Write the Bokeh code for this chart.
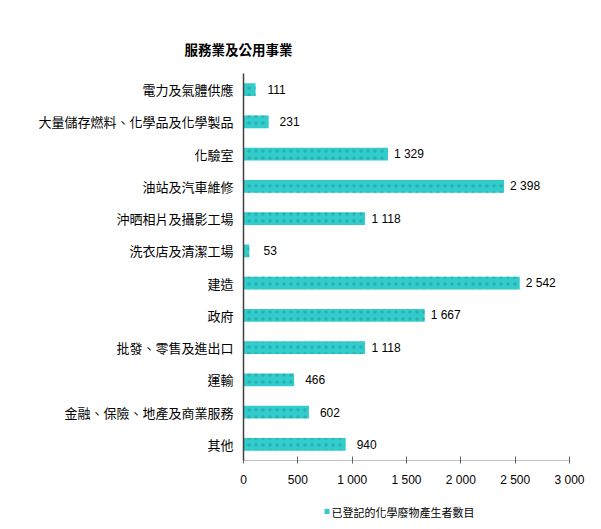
from bokeh.plotting import figure
from bokeh.layouts import column
from bokeh.models import FactorRange, Range1d, FixedTicker, Title, ColumnDataSource
from bokeh.core.properties import value
from bokeh.embed import file_html
from bokeh.resources import INLINE

title = "服務業及公用事業"
categories = ["電力及氣體供應", "大量儲存燃料、化學品及化學製品", "化驗室", "油站及汽車維修",
              "沖晒相片及攝影工場", "洗衣店及清潔工場", "建造", "政府", "批發、零售及進出口",
              "運輸", "金融、保險、地產及商業服務", "其他"]
counts = [111, 231, 1329, 2398, 1118, 53, 2542, 1667, 1118, 466, 602, 940]
series_name = "已登記的化學廢物產生者數目"
x_ticks = [0, 500, 1000, 1500, 2000, 2500, 3000]
x_tick_labels = ["0", "500", "1 000", "1 500", "2 000", "2 500", "3 000"]

BAR_COLOR = "#33CCCC"

def fmt(v):
    return f"{v:,}".replace(",", " ")

src = ColumnDataSource(dict(cat=categories, val=counts, lab=[fmt(v) for v in counts]))

p = figure(width=601, height=495, output_backend="svg", toolbar_location=None,
           y_range=FactorRange(*reversed(categories)), x_range=Range1d(0, 3000),
           min_border_left=243, min_border_right=32, min_border_top=73, min_border_bottom=35)
p.outline_line_color = None
p.xgrid.grid_line_color = None
p.ygrid.grid_line_color = None

bars = p.hbar(y="cat", right="val", left=0, height=0.4, source=src,
              fill_color=BAR_COLOR, line_color=None,
              hatch_pattern="dot", hatch_color="#1f9f9f", hatch_scale=7, hatch_weight=1, hatch_alpha=0.6)

p.text(x="val", y="cat", text="lab", source=src, x_offset=21,
       text_align="center", text_baseline="middle",
       text_font=value("Liberation Sans"), text_font_size="12px", text_color="#000000")

# axes
p.yaxis.major_label_text_font = "Noto Sans CJK TC"
p.yaxis.major_label_text_font_size = "13px"
p.yaxis.major_label_text_color = "#000000"
p.yaxis.major_tick_line_color = None
p.yaxis.major_tick_out = 0
p.yaxis.major_tick_in = 0
p.yaxis.major_label_standoff = 10
p.yaxis.axis_line_color = "#404040"
p.yaxis.axis_line_width = 1.5

p.xaxis.ticker = FixedTicker(ticks=x_ticks)
p.xaxis.major_label_overrides = {t: l for t, l in zip(x_ticks, x_tick_labels)}
p.xaxis.major_label_text_font = "Liberation Sans"
p.xaxis.major_label_text_font_size = "12px"
p.xaxis.major_label_text_color = "#000000"
p.xaxis.major_label_standoff = 9
p.xaxis.minor_tick_line_color = None
p.xaxis.major_tick_in = 4
p.xaxis.major_tick_out = 3
p.xaxis.major_tick_line_color = "#606060"
p.xaxis.axis_line_color = "#808080"
p.xaxis.axis_line_dash = "1 1"

p.add_layout(Title(text=title, align="left", offset=-59, standoff=30,
                   text_font="Noto Sans CJK TC", text_font_size="13.5px", text_font_style="bold",
                   text_color="#000000"), "above")

# legend strip below the chart; its frame is aligned with the main frame (pixels 243..569)
p2 = figure(width=601, height=34, output_backend="svg", toolbar_location=None,
            x_range=Range1d(243, 569), y_range=Range1d(34, 0),
            x_axis_type=None, y_axis_type=None,
            min_border_left=243, min_border_right=32, min_border_top=0, min_border_bottom=0)
p2.grid.visible = False
p2.outline_line_color = None
p2.rect(x=[326.5], y=[16], width=5, height=5, fill_color=BAR_COLOR, line_color=None)
p2.text(x=[331], y=[16], text=[series_name], text_align="left", text_baseline="middle",
        text_font=value("Noto Sans CJK TC"), text_font_size="11px", text_color="#000000")

layout = column(p, p2, spacing=0)
open("out.html", "w").write(file_html(layout, INLINE))
